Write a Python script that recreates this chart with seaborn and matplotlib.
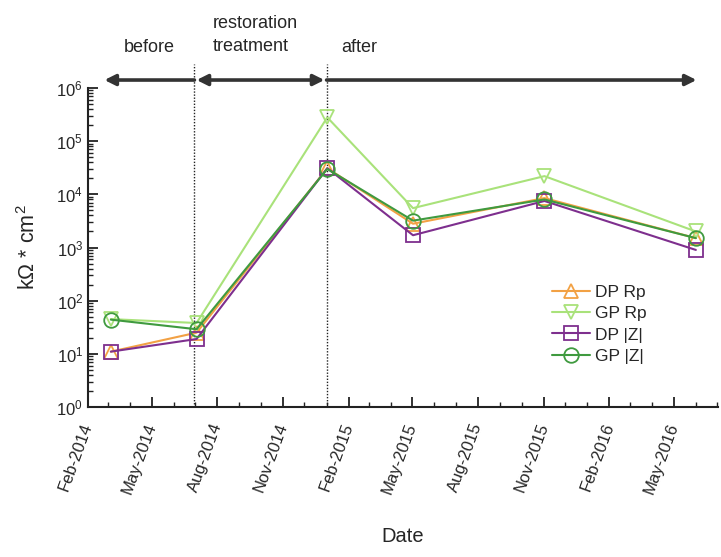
import numpy as np
import pandas as pd
import matplotlib
matplotlib.use("Agg")
import matplotlib.pyplot as plt
import matplotlib.dates as mdates
import matplotlib.ticker as mticker
import matplotlib.transforms as mtransforms
import seaborn as sns

# ---- data ----
dates = ["2014-03-05", "2014-07-03", "2015-01-02", "2015-05-02", "2015-11-02", "2016-06-01"]
dp_rp = [11, 25, 31000, 2800, 8500, 1500]
gp_rp = [45, 38, 280000, 5500, 22000, 2000]
dp_z = [11, 19, 31000, 1700, 7500, 900]
gp_z = [44, 29, 30000, 3200, 8000, 1500]
series_names = ["DP Rp", "GP Rp", "DP |Z|", "GP |Z|"]
phase_labels = ["before", "restoration\ntreatment", "after"]
phase_bounds = ["2014-06-30", "2015-01-01"]

sns.set_theme(style="white")
plt.rcParams["font.family"] = ["Liberation Sans", "DejaVu Sans"]
plt.rcParams["mathtext.fontset"] = "custom"
plt.rcParams["mathtext.rm"] = "Liberation Sans"
plt.rcParams["mathtext.it"] = "Liberation Sans:italic"

W, H = 721, 557
fig = plt.figure(figsize=(W / 100, H / 100), dpi=100)
ax_l, ax_r, ax_t, ax_b = 88, 718, 88, 407
ax = fig.add_axes([ax_l / W, 1 - ax_b / H, (ax_r - ax_l) / W, (ax_b - ax_t) / H])

df = pd.DataFrame({
    "Date": pd.to_datetime(dates * 4),
    "value": dp_rp + gp_rp + dp_z + gp_z,
    "series": np.repeat(series_names, len(dates)),
})

styles = {
    "DP Rp": dict(color="#f2a144", marker="^"),
    "GP Rp": dict(color="#a9e27a", marker="v"),
    "DP |Z|": dict(color="#7e2f8e", marker="s"),
    "GP |Z|": dict(color="#3f9a3f", marker="o"),
}
for name in series_names:
    st = styles[name]
    sub = df[df["series"] == name]
    sns.lineplot(data=sub, x="Date", y="value", ax=ax, color=st["color"],
                 marker=st["marker"], markersize=10.5, markerfacecolor="none",
                 markeredgecolor=st["color"], markeredgewidth=1.3,
                 linewidth=1.5, label=name)

ax.set_yscale("log")
ax.set_ylim(1, 1e6)
ax.set_xlim(pd.Timestamp("2014-02-01"), pd.Timestamp("2016-07-02"))
ax.yaxis.set_major_locator(mticker.LogLocator(base=10, numticks=10))
ax.yaxis.set_minor_locator(mticker.LogLocator(base=10, subs=np.arange(2, 10), numticks=20))
ax.yaxis.set_minor_formatter(mticker.NullFormatter())
ax.xaxis.set_major_locator(mdates.MonthLocator(bymonth=[2, 5, 8, 11]))
ax.xaxis.set_minor_locator(mdates.MonthLocator())
ax.xaxis.set_major_formatter(mdates.DateFormatter("%b-%Y"))

for s in ["top", "right"]:
    ax.spines[s].set_visible(False)
for s in ["left", "bottom"]:
    ax.spines[s].set_linewidth(1.5)
    ax.spines[s].set_color("#222222")
ax.tick_params(axis="both", which="major", direction="in", length=7, width=1.3,
               color="#222222", labelsize=12, left=True, bottom=True)
ax.tick_params(axis="both", which="minor", direction="in", length=3.5, width=1.0,
               color="#222222", left=True, bottom=True)
ax.tick_params(axis="x", which="major", pad=12)
for lab in ax.get_xticklabels():
    lab.set_rotation(70)
    lab.set_ha("right")
    lab.set_va("center")
    lab.set_rotation_mode("anchor")
ax.set_xlabel("Date", fontsize=14.5, labelpad=22)
ax.set_ylabel("kΩ * cm$^2$", fontsize=15.5, labelpad=12)
ax.grid(False)

# phase separators and arrows
trans = mtransforms.blended_transform_factory(ax.transData, ax.transAxes)
for b in phase_bounds:
    xb = mdates.date2num(pd.Timestamp(b))
    ax.plot([xb, xb], [0, 1.075], transform=trans, color="#222222",
            linestyle=(0, (1, 1.2)), linewidth=1.0, clip_on=False, zorder=1)

ya = 1.025
arrow_kw = dict(color="#333333", lw=2.6, shrinkA=0, shrinkB=0, mutation_scale=16)
def arr(x0, x1, style):
    ax.annotate("", xy=(mdates.date2num(pd.Timestamp(x1)), ya), xycoords=trans,
                xytext=(mdates.date2num(pd.Timestamp(x0)), ya), textcoords=trans,
                arrowprops=dict(arrowstyle=style, **arrow_kw), annotation_clip=False)
arr("2014-06-30", "2014-02-24", "-|>")
arr("2014-07-03", "2014-12-29", "<|-|>")
arr("2015-01-01", "2016-06-02", "-|>")

fig.text(149 / W, 1 - 47 / H, phase_labels[0], fontsize=13, ha="center", va="center")
fig.text(213 / W, 1 - 35 / H, phase_labels[1], fontsize=13, ha="left", va="center",
         linespacing=1.5)
fig.text(341 / W, 1 - 47 / H, phase_labels[2], fontsize=13, ha="left", va="center")

leg = ax.legend(loc="upper left", bbox_to_anchor=((545 - ax_l) / (ax_r - ax_l), 1 - (278 - ax_t) / (ax_b - ax_t)),
                frameon=False, fontsize=12.5, handlelength=2.2, handletextpad=0.3,
                labelspacing=0.35, borderaxespad=0)

fig.savefig("out.png", dpi=100)
